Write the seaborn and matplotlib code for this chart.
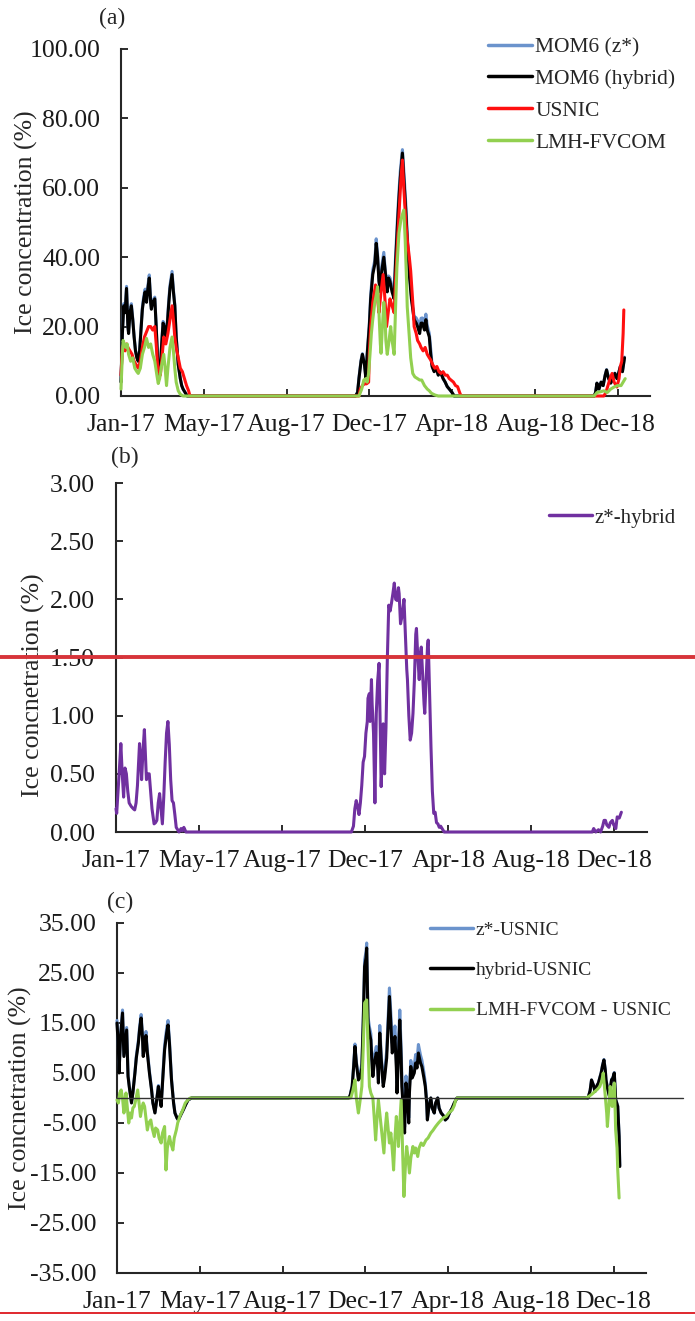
import matplotlib
matplotlib.use("Agg")
import matplotlib.pyplot as plt
from matplotlib.lines import Line2D
import seaborn as sns

# ---------------- DATA ----------------
x_tick_days = [0, 120, 240, 360, 480, 600, 720]
x_tick_labels = ["Jan-17", "May-17", "Aug-17", "Dec-17", "Apr-18", "Aug-18", "Dec-18"]

# Panel (a): ice concentration (%)
days_a_mom = [0, 2, 4, 6, 8, 10, 11, 13, 15, 17, 19, 21, 23, 25, 27, 29, 31, 33, 35, 37, 39, 41, 43, 44, 46, 49,
              51, 53, 55, 57, 59, 61, 63, 65, 67, 69, 71, 74, 76, 78, 80, 83, 86, 88, 90, 93, 96,
              340, 343, 345, 348, 350, 353, 355, 357, 360, 362, 365, 368, 370, 372, 374, 376, 378, 381, 383, 386,
              388, 390, 393, 396, 398, 401, 403, 405, 408, 410, 413, 415, 418, 421, 423, 425, 428, 430, 433, 435,
              437, 440, 442, 444, 447, 449, 451, 454, 457, 460, 462, 464, 467, 470, 473, 476, 480, 483,
              686, 688, 690, 693, 696, 699, 702, 704, 707, 710, 713, 716, 719, 722, 724, 727, 730]
vals_a_hybrid = [4, 18, 26, 24, 31, 20, 18, 24, 26, 22, 17, 13, 11, 10, 13, 19, 25, 28, 30, 27, 31, 34, 27, 25, 27, 28,
                 20, 11, 5, 8, 15, 21, 20, 17, 20, 26, 31, 35, 30, 26, 17, 9, 5, 3, 2, 1, 0,
                 0, 1, 5, 10, 12, 9, 5, 12, 20, 28, 35, 38, 44, 40, 33, 30, 36, 40, 36, 30,
                 34, 33, 30, 28, 38, 50, 57, 63, 70, 63, 53, 45, 35, 28, 25, 22, 21, 20, 18, 21,
                 21, 19, 22, 19, 17, 12, 8.5, 7, 8, 6, 7, 6.5, 5, 4, 2.7, 2, 1, 0,
                 0, 1, 3.7, 2, 4, 3, 6, 7.5, 5, 3.7, 5, 6.5, 5, 7, 8.5, 7, 11]
vals_a_zstar = [4.2, 18.4, 26.6, 24.6, 31.6, 20.4, 18.3, 24.5, 26.6, 22.4, 17.3, 13.2, 11.2, 10.2, 13.4, 19.7, 25.6, 28.8, 30.8, 27.5, 31.8, 34.9, 27.5, 25.5, 27.5, 28.5,
                20.3, 11.2, 5.1, 8.2, 15.3, 21.5, 20.6, 17.6, 20.7, 26.9, 31.9, 35.9, 30.6, 26.3, 17.3, 9.1, 5, 3, 2, 1, 0,
                0, 1.1, 5.3, 10.3, 12.2, 9.3, 5.5, 12.6, 20.8, 29.2, 36.3, 39.1, 45.3, 41, 33.3, 31, 37.3, 41.4, 36.6, 30.8,
                34.6, 34, 31.5, 30, 40, 52, 59, 65, 71, 65, 55, 46.5, 36.5, 29, 25.8, 23, 22.5, 21.7, 19.3, 22.4,
                22.5, 20.6, 23.6, 20.3, 18, 13.6, 9, 7.2, 8.1, 6.1, 7, 6.5, 5, 4, 2.7, 2, 1, 0,
                0, 1, 3.7, 2, 4, 3, 6.1, 7.6, 5.1, 3.8, 5.1, 6.6, 5.1, 7, 8.6, 7.1, 11.2]

days_a_usnic = [0, 2, 4, 6, 8, 10, 13, 16, 19, 22, 25, 28, 31, 34, 37, 40, 43, 46, 49, 51, 53, 55, 57, 59, 62, 65, 68,
                71, 74, 76, 78, 80, 83, 86, 89, 92, 95, 98, 100,
                345, 347, 350, 353, 356, 359, 360, 362, 365, 369, 372, 374, 377, 380, 383, 385, 388, 390, 393, 396,
                398, 401, 404, 406, 408, 410, 413, 415, 418, 420, 423, 425, 428, 430, 433, 435, 438, 441, 444, 447,
                449, 452, 455, 458, 461, 464, 467, 470, 473, 476, 479, 482, 485, 488, 491, 493,
                700, 703, 706, 709, 712, 715, 719, 722, 724, 726, 728, 729]
vals_a_usnic = [6, 14, 15, 13, 15, 14, 13, 12, 10, 9, 8, 10, 14, 17, 18.5, 20, 20, 19, 20, 15, 9, 7, 6, 10, 17, 15, 18,
                22, 26, 22, 17, 14, 11, 8, 7, 5, 3, 1.5, 0,
                0, 2, 3, 3.5, 3.5, 4, 12, 20, 27, 32, 28, 24, 30, 35, 27, 20, 25, 28, 26, 24,
                33, 45, 56, 63, 68, 60, 50, 45, 40, 36, 27, 20, 18, 16, 15, 14, 13, 14, 12, 11,
                10.4, 9, 8, 8.5, 7, 6.5, 7, 6, 6, 5, 4.5, 4, 3, 2.7, 1, 0,
                0, 1, 3, 5, 6.5, 4, 2.6, 5, 8.5, 10, 18, 24.8]

days_a_lmh = [0, 2, 3, 5, 7, 9, 11, 14, 17, 20, 23, 25, 28, 31, 34, 37, 40, 43, 46, 49, 52, 54, 56, 59, 62, 64, 66,
              68, 71, 74, 76, 78, 80, 83, 86, 90,
              345, 349, 352, 355, 357, 359, 361, 363, 365, 368, 370, 372, 374, 376, 377, 379, 381, 383, 384, 386,
              388, 391, 393, 396, 398, 400, 403, 406, 410, 412, 414, 415, 418, 420, 423, 426, 430, 433, 436, 440,
              444, 447, 450, 455, 460,
              686, 690, 695, 700, 705, 710, 715, 720, 725, 728, 731]
vals_a_lmh = [2, 12, 16, 15, 14, 15, 12, 10, 11, 8, 7, 6.5, 8, 12, 14, 16.6, 14, 15, 12, 10, 6, 3.6, 5, 9, 12, 8, 3,
              8, 14, 17, 13, 8, 4, 1.5, 0.5, 0,
              0, 2, 4.6, 5, 4, 6.5, 12, 18, 22, 27, 29, 31.5, 24, 15, 12.3, 20, 27, 22, 16, 12,
              15, 20, 16, 12, 25, 37, 47, 51, 53.6, 45, 33, 25.7, 17, 11, 6.5, 5.5, 5, 4.6, 4.6, 3,
              2, 1.5, 0.8, 0.3, 0,
              0, 1, 1.2, 1.5, 1, 2, 2.6, 3, 3, 4, 5]

# Panel (b): z*-hybrid
days_b = [0, 1, 3, 5, 7, 9, 11, 13, 15, 17, 19, 22, 25, 27, 29, 31, 33, 34, 36, 37, 39, 41, 43, 44, 46, 48, 50, 52,
          55, 57, 59, 61, 63, 65, 67, 69, 71, 73, 75, 77, 79, 81, 83, 85, 87, 89, 91, 94, 96, 98, 101,
          335, 340, 343, 345, 347, 349, 351, 353, 355, 357, 359, 361, 363, 364, 366, 367, 369, 370, 372, 374, 376,
          378, 380, 382, 383, 385, 386, 387, 388, 390, 392, 394, 396, 398, 400, 402, 404, 406, 408, 409, 411, 413,
          414, 416, 418, 420, 421, 423, 425, 427, 429, 431, 433, 434, 436, 438, 440, 441, 443, 445, 446, 448, 450,
          451, 453, 455, 457, 459, 461, 463, 465, 467, 469, 472, 474,
          688, 690, 693, 697, 700, 703, 705, 707, 709, 712, 714, 717, 719, 722, 724, 727, 730]
vals_b = [0.2, 0.16, 0.35, 0.55, 0.76, 0.5, 0.3, 0.55, 0.5, 0.35, 0.25, 0.22, 0.2, 0.19, 0.25, 0.4, 0.65, 0.76, 0.6,
          0.45, 0.7, 0.88, 0.6, 0.45, 0.5, 0.5, 0.35, 0.2, 0.07, 0.08, 0.1, 0.25, 0.33, 0.2, 0.07, 0.3, 0.6, 0.85,
          0.95, 0.75, 0.45, 0.27, 0.25, 0.15, 0.04, 0.02, 0, 0.03, 0.01, 0.04, 0,
          0, 0, 0.05, 0.2, 0.27, 0.22, 0.15, 0.25, 0.4, 0.6, 0.65, 0.85, 0.95, 1.15, 1.19, 0.95, 1.31, 1.1, 0.85,
          0.25, 1.02, 1.3, 1.45, 0.8, 0.39, 0.7, 0.93, 0.6, 0.5, 0.9, 1.5, 1.95, 1.9, 1.97, 2.05, 2.14, 2.0, 1.99,
          2.1, 2.05, 1.79, 1.85, 1.9, 2.0, 1.7, 1.4, 1.31, 1.0, 0.79, 0.85, 1.02, 1.3, 1.7, 1.75, 1.5, 1.31, 1.55,
          1.59, 1.35, 1.1, 1.02, 1.3, 1.6, 1.65, 1.2, 0.73, 0.35, 0.16, 0.17, 0.08, 0.07, 0.04, 0.05, 0.02, 0,
          0, 0.03, 0, 0.02, 0, 0.05, 0.1, 0.1, 0.06, 0.04, 0.08, 0.1, 0.06, 0.03, 0.13, 0.12, 0.17]

# Panel (c): differences to USNIC
days_c_mom = [0, 2, 3, 5, 8, 10, 12, 14, 16, 18, 21, 23, 26, 28, 31, 33, 35, 37, 38, 40, 42, 44, 47, 50, 52, 55, 57,
              60, 62, 64, 66, 69, 72, 74, 76, 79, 82, 84, 87, 89, 92, 96, 100, 103, 108,
              336, 338, 341, 343, 345, 347, 350, 352, 355, 357, 359, 361, 362, 363, 364, 366, 368, 370, 371, 373,
              376, 378, 379, 380, 381, 383, 386, 388, 391, 393, 395, 397, 399, 401, 403, 405, 406, 408, 410, 412,
              413, 415, 417, 418, 419, 421, 423, 424, 426, 428, 431, 433, 435, 437, 440, 442, 445, 447, 449, 450,
              452, 455, 457, 460, 462, 465, 467, 470, 473, 476, 479, 482, 486, 489, 493,
              683, 686, 688, 691, 693, 696, 698, 700, 702, 704, 706, 708, 709, 711, 714, 716, 717, 719, 721, 723,
              726, 728, 729]
vals_c_hybrid = [15, 10, 5, 12, 17, 8.3, 11, 13.6, 4.3, 2, -1, 1, 5, 8, 11, 14, 16, 12, 8.3, 10, 12.5, 9, 5, 1.7, -1,
                 -3, -1, 2.3, 0, -1.7, 3, 9.6, 13, 14.6, 11, 3.6, -1, -3, -4, -4.4, -3.5, -2.4, -1.2, -0.4, 0,
                 0, 0.5, 2.3, 6, 10.3, 7, 3.6, 4, 6, 15, 26.3, 28, 30, 22, 15, 13, 11.6, 6, 4.3, 7,
                 9, 6, 3, 8, 13, 8, 2.3, 4, 8, 14, 20.3, 15, 9, 10, 12.3, 6, 1, 8, 15.6, 8,
                 2.3, -2, -7, -1, 3, 0, -5, 1, 6.3, 4, 5, 7, 6, 9, 7, 6.3, 4, 2.3, -1, -4.4,
                 -2, 0, -2, -3, -1, 0, -2, -3, -3.5, -4.4, -4, -3, -2, -1, 0,
                 0, 1.5, 3.6, 2.5, 1.3, 2.5, 3, 4, 5, 6.5, 7.6, 5.5, 3.6, 2, 0.3, 2.5, 3.6, 4, 5, -0.3,
                 -1.7, -7.7, -13.7]
vals_c_zstar = [15.5, 10.4, 5.3, 12.5, 17.6, 8.6, 11.4, 14.1, 4.6, 2.2, -0.8, 1.2, 5.2, 8.4, 11.5, 14.6, 16.7, 12.5,
                8.7, 10.6, 13.3, 9.5, 5.4, 2, -0.9, -2.9, -0.9, 2.5, 0.3, -1.4, 3.5, 10.5, 13.9, 15.5, 11.6, 3.9,
                -0.8, -3, -4, -4.4, -3.5, -2.4, -1.2, -0.4, 0,
                0, 0.5, 2.5, 6.4, 10.8, 7.3, 4.1, 4.6, 6.8, 16, 27.6, 29.2, 31, 23.3, 16.2, 14.2, 12.9, 6.9, 4.6, 8.3,
                10.3, 7.4, 3.7, 9.4, 14.5, 8.9, 3, 5, 9.5, 16, 22, 17, 11, 12.1, 14.4, 8, 3, 10, 17.6, 9.8,
                4.2, -0.5, -5.8, 0.3, 4.4, 1.3, -4, 2, 7.5, 5.4, 6.5, 8.7, 7.5, 10.7, 8.6, 7.6, 5.1, 3, -0.6, -4.2,
                -1.9, 0, -2, -3, -1, 0, -2, -3, -3.5, -4.4, -4, -3, -2, -1, 0,
                0, 1.5, 3.6, 2.5, 1.3, 2.5, 3, 4.1, 5.1, 6.6, 7.7, 5.6, 3.7, 2.1, 0.4, 2.6, 3.7, 4.1, 5.1, -0.2,
                -1.6, -7.6, -13.5]

days_c_lmh = [0, 2, 4, 6, 8, 10, 12, 13, 15, 17, 19, 21, 23, 25, 27, 30, 32, 34, 36, 38, 40, 42, 44, 46, 49, 51, 54,
              56, 59, 61, 64, 66, 69, 71, 73, 76, 78, 81, 83, 86, 88, 91, 95, 99, 102, 106,
              339, 342, 345, 347, 350, 352, 355, 357, 359, 362, 364, 366, 368, 371, 373, 375, 377, 379, 381, 383,
              385, 387, 389, 391, 393, 395, 397, 398, 400, 401, 403, 405, 407, 408, 410, 412, 414, 416, 418, 420,
              422, 424, 426, 429, 431, 433, 436, 438, 441, 444, 448, 451, 455, 458, 462, 466, 470, 473, 477, 481,
              486, 489, 491, 493,
              680, 684, 688, 693, 697, 700, 703, 705, 707, 708, 710, 711, 713, 715, 717, 718, 720, 721, 722, 723,
              725, 726, 728]
vals_c_lmh = [-0.4, -1, 1, 1.6, 0, -3, -1, 1, -2, -5, -3, -4, -2, -1.7, -0.5, 1.6, -1, -3.7, -2, -1, -1.7, -4, -6.4,
              -5, -4.4, -6, -7.7, -6, -6.4, -8, -9, -7, -5.7, -14.4, -10, -7.7, -9, -10.4, -8, -6.4, -5, -3.7,
              -2.5, -1, -0.5, 0,
              0, 1.5, 3.6, 0, -3, -1, 2.3, 10, 19, 19.6, 10, 2.3, 1, 0, -4, -8.4, -4, -0.4, -3, -5.7,
              -8, -11, -6, -3, -6, -9, -7, -8.4, -12, -14.4, -8, -3.7, -7, -9.7, -5, -0.4, -10, -19.7, -14, -9.7,
              -12, -15, -12, -9.7, -11, -10, -11.7, -10, -9, -9.5, -8.4, -8, -7, -6.5, -5.7, -5, -4.4, -4, -3.7, -3,
              -2.4, -1.5, -0.4, 0,
              0, 0.3, 0.7, 1.3, 1.8, 2.3, 3.5, 5, 2, 0.3, -3, -5.7, -2, 2.3, 0, -1.7, 1.5, 3, -1, -6.4,
              -10, -14.3, -20]

# ---------------- STYLE ----------------
sns.set_style("ticks")
plt.rcParams["font.family"] = ["Liberation Serif", "DejaVu Serif"]
plt.rcParams["axes.linewidth"] = 1.5

C_BLUE = "#6b93cc"
C_BLACK = "#000000"
C_RED = "#ff1010"
C_GREEN = "#92d050"
C_PURPLE = "#7030a0"
LW = 2.2

fig = plt.figure(figsize=(6.95, 13.21), dpi=100)
ax_a = fig.add_axes([0.1741, 0.70023, 0.7612, 0.26268])
ax_b = fig.add_axes([0.1669, 0.37017, 0.7640, 0.26419])
ax_c = fig.add_axes([0.16835, 0.03634, 0.76115, 0.26495])


def draw(ax, x, y, color):
    sns.lineplot(x=x, y=y, ax=ax, color=color, lw=LW, estimator=None, sort=False,
                 legend=False, clip_on=False, zorder=3)


def style(ax, ylim, yticks, fmt, ylabel, label_xy):
    ax.set_xlim(0, 767)
    ax.set_ylim(*ylim)
    ax.set_xticks(x_tick_days)
    ax.set_xticklabels(x_tick_labels)
    ax.set_yticks(yticks)
    ax.set_yticklabels([fmt.format(v) for v in yticks])
    for s in ["top", "right"]:
        ax.spines[s].set_visible(False)
    ax.tick_params(axis="both", direction="in", length=5, width=1.3, labelsize=18.5, colors="#1a1a1a")
    ax.tick_params(axis="x", pad=13)
    ax.tick_params(axis="y", pad=15)
    ax.set_xlabel("")
    ax.set_ylabel(ylabel, fontsize=18.5)
    ax.yaxis.set_label_coords(*label_xy)


# Panel (a)
draw(ax_a, days_a_mom, vals_a_zstar, C_BLUE)
draw(ax_a, days_a_mom, vals_a_hybrid, C_BLACK)
draw(ax_a, days_a_usnic, vals_a_usnic, C_RED)
draw(ax_a, days_a_lmh, vals_a_lmh, C_GREEN)
style(ax_a, (0, 100), [0, 20, 40, 60, 80, 100], "{:.2f}", "Ice concentration (%)", (-0.157, 0.5))
h_a = [Line2D([], [], color=c, lw=2.5) for c in (C_BLUE, C_BLACK, C_RED, C_GREEN)]
ax_a.legend(h_a, ["MOM6 (z*)", "MOM6 (hybrid)", "USNIC", "LMH-FVCOM"], loc="upper left",
            bbox_to_anchor=(488 / 695, 1 - 37 / 1321), bbox_transform=fig.transFigure, frameon=False,
            fontsize=15.5, handlelength=2.05, handletextpad=0.15, labelspacing=0.55, borderpad=0,
            borderaxespad=0)

# Panel (b)
draw(ax_b, days_b, vals_b, C_PURPLE)
style(ax_b, (0, 3), [0, 0.5, 1.0, 1.5, 2.0, 2.5, 3.0], "{:.2f}", "Ice concnetration (%)", (-0.133, 0.42))
ax_b.legend([Line2D([], [], color=C_PURPLE, lw=2.5)], ["z*-hybrid"], loc="upper left",
            bbox_to_anchor=(549 / 695, 1 - 508 / 1321), bbox_transform=fig.transFigure, frameon=False,
            fontsize=15, handlelength=2.05, handletextpad=0.15, borderpad=0, borderaxespad=0)

# Panel (c)
draw(ax_c, days_c_mom, vals_c_zstar, C_BLUE)
draw(ax_c, days_c_mom, vals_c_hybrid, C_BLACK)
draw(ax_c, days_c_lmh, vals_c_lmh, C_GREEN)
ax_c.axhline(0, xmin=0, xmax=(683 - 117) / 529, color="#333333", lw=1.0, clip_on=False, zorder=4)
style(ax_c, (-35, 35), [-35, -25, -15, -5, 5, 15, 25, 35], "{:.2f}", "Ice concnetration (%)", (-0.161, 0.5))
h_c = [Line2D([], [], color=c, lw=2.5) for c in (C_BLUE, C_BLACK, C_GREEN)]
ax_c.legend(h_c, ["z*-USNIC", "hybrid-USNIC", "LMH-FVCOM - USNIC"], loc="upper left",
            bbox_to_anchor=(430 / 695, 1 - 921 / 1321), bbox_transform=fig.transFigure, frameon=False,
            fontsize=14, handlelength=2.2, handletextpad=0.15, labelspacing=1.17, borderpad=0,
            borderaxespad=0)

# Panel letters
fig.text(112 / 695, 1 - 18 / 1321, "(a)", ha="center", va="center", fontsize=17)
fig.text(125 / 695, 1 - 457 / 1321, "(b)", ha="center", va="center", fontsize=17)
fig.text(120 / 695, 1 - 902 / 1321, "(c)", ha="center", va="center", fontsize=17)

# Red separator lines present in the reference image
fig.add_artist(Line2D([0, 1], [1 - 657 / 1321] * 2, transform=fig.transFigure, color="#d7343a", lw=2.8))
fig.add_artist(Line2D([0, 1], [1 - 1312.5 / 1321] * 2, transform=fig.transFigure, color="#e0282e", lw=1.4))

fig.savefig("out.png", dpi=100)
